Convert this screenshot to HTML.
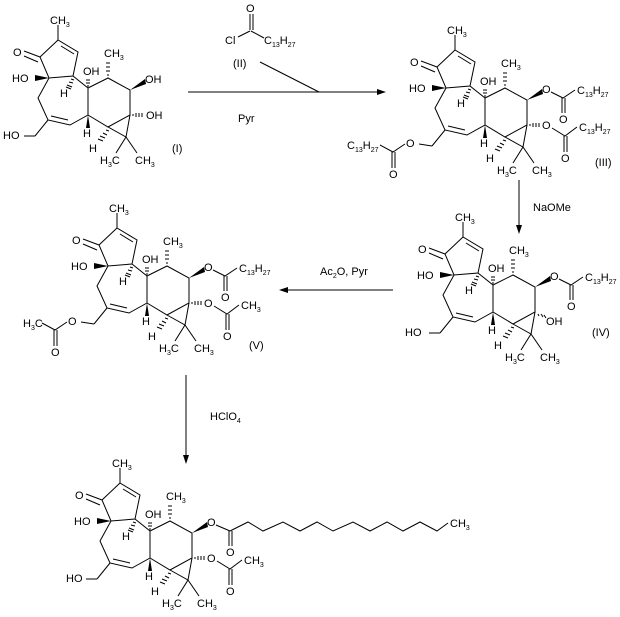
<!DOCTYPE html>
<html><head><meta charset="utf-8"><style>
html,body{margin:0;padding:0;background:#fff;}
svg{display:block;}
text{font-family:"Liberation Sans",sans-serif;font-size:11px;fill:#000;}
.s{font-size:7px;}
</style></head><body>
<svg width="620" height="617" viewBox="0 0 620 617" xmlns="http://www.w3.org/2000/svg">
<defs>
<g id="core" stroke="#000" stroke-width="1" fill="none">
<!-- five ring -->
<path d="M40,57 L58,40 L78,52 L73,76 L49,78 Z"/>
<line x1="61" y1="46" x2="74" y2="54"/>
<line x1="58" y1="40" x2="58" y2="25"/>
<line x1="40" y1="57" x2="24" y2="51"/>
<line x1="38" y1="62" x2="24" y2="56"/>
<!-- seven ring -->
<path d="M49,78 L38,98 L48,120 L70,125 L88,115 L88,88 L73,76"/>
<line x1="51" y1="116" x2="68" y2="120"/>
<line x1="48" y1="120" x2="35" y2="136"/>
<!-- six ring -->
<path d="M88,88 L108,78 L130,90 L130,115 L108,127 L88,115"/>
<path d="M108,127 L126,137 L130,115"/>
<line x1="126" y1="137" x2="116" y2="153"/>
<line x1="126" y1="137" x2="137" y2="153"/>
</g>
<g id="stereo" stroke="#000" stroke-width="1">
<polygon points="49,78 35,75 35,81" fill="#000" stroke="none"/>
<path d="M71,79 l3,1 M69,82 l4,1 M67,85 l5,2 M66,87 l5,2"/>
<path d="M87,86 l2,0 M86,83 l4,0 M86,80 l4,0"/>
<path d="M107,75 l2,0 M106,71 l4,0 M106,67 l4,0 M106,63 l4,0"/>
<polygon points="88,115 86,128 90,128" fill="#000" stroke="none"/>
<path d="M106,130 l3,1 M103,133 l4,2 M100,136 l5,2 M98,139 l5,2"/>
</g>
</defs>

<!-- (I) -->
<g>
<use href="#core"/><use href="#stereo"/>
<line x1="35" y1="136" x2="24" y2="136" stroke="#000"/>
<text x="50" y="24">CH<tspan class="s" dy="3">3</tspan></text>
<text x="13" y="56">O</text>
<text x="12" y="82">HO</text>
<text x="60" y="97">H</text>
<text x="83" y="75">OH</text>
<text x="104" y="57">CH<tspan class="s" dy="3">3</tspan></text>
<polygon points="130,90 145,79 146,84" fill="#000"/>
<text x="145" y="83">OH</text>
<path d="M133,114 l0,2 M136,113 l0,4 M139,113 l0,4 M142,113 l0,4" stroke="#000"/>
<text x="146" y="119">OH</text>
<text x="83" y="137">H</text>
<text x="89" y="152">H</text>
<text x="100" y="164">H<tspan class="s" dy="3">3</tspan><tspan dy="-3">C</tspan></text>
<text x="135" y="164">CH<tspan class="s" dy="3">3</tspan></text>
<text x="3" y="139">HO</text>
<text x="172" y="152">(I)</text>
</g>

<!-- reagent -->
<text x="246" y="12">O</text>
<line x1="250" y1="14" x2="250" y2="30" stroke="#000"/>
<line x1="253" y1="14" x2="253" y2="30" stroke="#000"/>
<line x1="238" y1="37" x2="250" y2="31" stroke="#000"/>
<line x1="251" y1="31" x2="264" y2="38" stroke="#000"/>
<text x="225" y="44">Cl</text>
<text x="264" y="44">C<tspan class="s" dy="3">13</tspan><tspan dy="-3">H</tspan><tspan class="s" dy="3">27</tspan></text>
<text x="233" y="67">(II)</text>
<line x1="260" y1="62" x2="319" y2="92" stroke="#000"/>
<line x1="188" y1="92" x2="380" y2="92" stroke="#000"/>
<polygon points="386,92 377,89 377,95" fill="#000"/>
<text x="238" y="122">Pyr</text>

<!-- (III) -->
<g transform="translate(397,10)">
<use href="#core"/><use href="#stereo"/>
<text x="50" y="24">CH<tspan class="s" dy="3">3</tspan></text>
<text x="13" y="56">O</text>
<text x="12" y="82">HO</text>
<text x="60" y="97">H</text>
<text x="83" y="75">OH</text>
<text x="104" y="57">CH<tspan class="s" dy="3">3</tspan></text>
<polygon points="130,90 145,79 146,84" fill="#000"/>
<text x="145" y="83">O</text>
<path d="M154,82 L166,88 L178,80 M165,88 L165,103 M168,88 L168,103" stroke="#000" fill="none"/>
<text x="162" y="113">O</text>
<text x="180" y="84">C<tspan class="s" dy="3">13</tspan><tspan dy="-3">H</tspan><tspan class="s" dy="3">27</tspan></text>
<path d="M133,114 l0,2 M136,113 l0,4 M139,113 l0,4 M142,113 l0,4" stroke="#000"/>
<text x="145" y="119">O</text>
<path d="M155,118 L168,126 L180,117 M167,126 L167,142 M170,126 L170,142" stroke="#000" fill="none"/>
<text x="164" y="152">O</text>
<text x="182" y="121">C<tspan class="s" dy="3">13</tspan><tspan dy="-3">H</tspan><tspan class="s" dy="3">27</tspan></text>
<text x="83" y="137">H</text>
<text x="89" y="152">H</text>
<text x="100" y="164">H<tspan class="s" dy="3">3</tspan><tspan dy="-3">C</tspan></text>
<text x="135" y="164">CH<tspan class="s" dy="3">3</tspan></text>
<line x1="35" y1="136" x2="22" y2="134" stroke="#000"/>
<text x="9" y="137">O</text>
<path d="M8,134 L-4,142 L-17,135 M-5,142 L-5,158 M-2,142 L-2,158" stroke="#000" fill="none"/>
<text x="-8" y="168">O</text>
<text x="-50" y="139">C<tspan class="s" dy="3">13</tspan><tspan dy="-3">H</tspan><tspan class="s" dy="3">27</tspan></text>
<text x="198" y="156">(III)</text>
</g>

<!-- III -> IV -->
<line x1="519" y1="180" x2="519" y2="228" stroke="#000"/>
<polygon points="519,234 516,225 522,225" fill="#000"/>
<text x="533" y="211">NaOMe</text>

<!-- (IV) -->
<g transform="translate(405,197)">
<use href="#core"/><use href="#stereo"/>
<line x1="35" y1="136" x2="24" y2="136" stroke="#000"/>
<text x="50" y="24">CH<tspan class="s" dy="3">3</tspan></text>
<text x="13" y="56">O</text>
<text x="12" y="82">HO</text>
<text x="60" y="97">H</text>
<text x="83" y="75">OH</text>
<text x="104" y="57">CH<tspan class="s" dy="3">3</tspan></text>
<polygon points="130,90 145,79 146,84" fill="#000"/>
<text x="145" y="83">O</text>
<path d="M154,82 L166,88 L178,80 M165,88 L165,103 M168,88 L168,103" stroke="#000" fill="none"/>
<text x="162" y="113">O</text>
<text x="180" y="84">C<tspan class="s" dy="3">13</tspan><tspan dy="-3">H</tspan><tspan class="s" dy="3">27</tspan></text>
<path d="M133,117 l1,2 M136,117 l2,3 M139,118 l2,3" stroke="#000"/>
<text x="141" y="128">OH</text>
<text x="83" y="137">H</text>
<text x="89" y="152">H</text>
<text x="100" y="164">H<tspan class="s" dy="3">3</tspan><tspan dy="-3">C</tspan></text>
<text x="135" y="164">CH<tspan class="s" dy="3">3</tspan></text>
<text x="0" y="139">HO</text>
<text x="187" y="139">(IV)</text>
</g>

<!-- IV -> V -->
<line x1="393" y1="290" x2="285" y2="290" stroke="#000"/>
<polygon points="279,290 288,287 288,293" fill="#000"/>
<text x="320" y="275">Ac<tspan class="s" dy="3">2</tspan><tspan dy="-3">O,  Pyr</tspan></text>

<!-- (V) -->
<g transform="translate(59,188)">
<use href="#core"/><use href="#stereo"/>
<text x="50" y="24">CH<tspan class="s" dy="3">3</tspan></text>
<text x="13" y="56">O</text>
<text x="12" y="82">HO</text>
<text x="60" y="97">H</text>
<text x="83" y="75">OH</text>
<text x="104" y="57">CH<tspan class="s" dy="3">3</tspan></text>
<polygon points="130,90 145,79 146,84" fill="#000"/>
<text x="145" y="83">O</text>
<path d="M154,82 L166,88 L178,80 M165,88 L165,103 M168,88 L168,103" stroke="#000" fill="none"/>
<text x="162" y="113">O</text>
<text x="180" y="84">C<tspan class="s" dy="3">13</tspan><tspan dy="-3">H</tspan><tspan class="s" dy="3">27</tspan></text>
<path d="M133,114 l0,2 M136,113 l0,4 M139,113 l0,4 M142,113 l0,4" stroke="#000"/>
<text x="145" y="119">O</text>
<path d="M155,118 L168,126 L180,117 M167,126 L167,142 M170,126 L170,142" stroke="#000" fill="none"/>
<text x="164" y="152">O</text>
<text x="182" y="121">CH<tspan class="s" dy="3">3</tspan></text>
<text x="83" y="137">H</text>
<text x="89" y="152">H</text>
<text x="100" y="164">H<tspan class="s" dy="3">3</tspan><tspan dy="-3">C</tspan></text>
<text x="135" y="164">CH<tspan class="s" dy="3">3</tspan></text>
<line x1="35" y1="136" x2="22" y2="134" stroke="#000"/>
<text x="9" y="137">O</text>
<path d="M8,134 L-4,142 L-17,135 M-5,142 L-5,158 M-2,142 L-2,158" stroke="#000" fill="none"/>
<text x="-8" y="168">O</text>
<text x="-36" y="139">H<tspan class="s" dy="3">3</tspan><tspan dy="-3">C</tspan></text>
<text x="190" y="161">(V)</text>
</g>

<!-- V -> bottom -->
<line x1="186" y1="375" x2="186" y2="457" stroke="#000"/>
<polygon points="186,464 183,455 189,455" fill="#000"/>
<text x="210" y="420">HClO<tspan class="s" dy="3">4</tspan></text>

<!-- final product -->
<g transform="translate(62,443)">
<use href="#core"/><use href="#stereo"/>
<line x1="35" y1="136" x2="24" y2="136" stroke="#000"/>
<text x="50" y="24">CH<tspan class="s" dy="3">3</tspan></text>
<text x="13" y="56">O</text>
<text x="12" y="82">HO</text>
<text x="60" y="97">H</text>
<text x="83" y="75">OH</text>
<text x="104" y="57">CH<tspan class="s" dy="3">3</tspan></text>
<polygon points="130,90 145,79 146,84" fill="#000"/>
<text x="145" y="83">O</text>
<path d="M154,82 L168,88 M167,88 L167,103 M170,88 L170,103" stroke="#000" fill="none"/>
<polyline points="168,88 186,79 201,88 221,79 238,88 255,79 271,88 291,79 308,88 325,79 341,88 358,79 375,88 386,80" stroke="#000" fill="none"/>
<text x="164" y="113">O</text>
<text x="388" y="84">CH<tspan class="s" dy="3">3</tspan></text>
<path d="M133,114 l0,2 M136,113 l0,4 M139,113 l0,4 M142,113 l0,4" stroke="#000"/>
<text x="145" y="119">O</text>
<path d="M155,118 L168,126 L180,117 M167,126 L167,142 M170,126 L170,142" stroke="#000" fill="none"/>
<text x="164" y="152">O</text>
<text x="182" y="121">CH<tspan class="s" dy="3">3</tspan></text>
<text x="83" y="137">H</text>
<text x="89" y="152">H</text>
<text x="100" y="164">H<tspan class="s" dy="3">3</tspan><tspan dy="-3">C</tspan></text>
<text x="135" y="164">CH<tspan class="s" dy="3">3</tspan></text>
<text x="4" y="139">HO</text>
</g>
</svg>
</body></html>
